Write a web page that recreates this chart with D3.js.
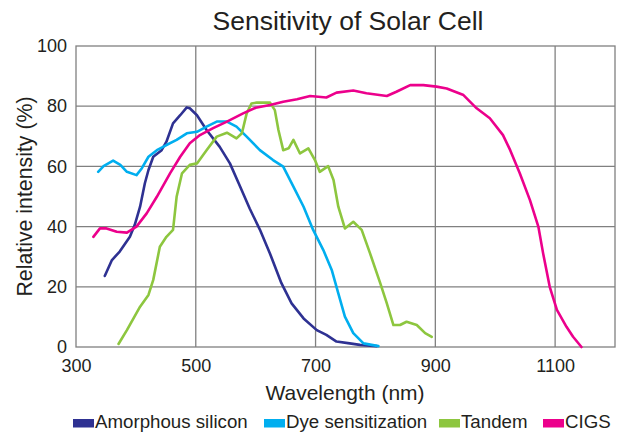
<!DOCTYPE html>
<html><head><meta charset="utf-8">
<script src="https://cdn.jsdelivr.net/npm/d3@7"></script>
<style>body{margin:0;background:#fff}text{font-family:"Liberation Sans",Arial,sans-serif;fill:#231f20}</style>
</head><body><svg id="c" width="622" height="432"></svg>
<script>
const xTicks = [300, 500, 700, 900, 1100];
const yTicks = [0, 20, 40, 60, 80, 100];
const seriesNames = ["Amorphous silicon", "Dye sensitization", "Tandem", "CIGS"];
const seriesColors = ["#2e3192", "#00aeef", "#8dc63f", "#ec008c"];

const amorphousNm = [348,360,373,390,398,407,415,421,429,443,451,462,474,485,490,502,518,540,557,574,590,607,624,643,660,680,702,718,735,757,774,802];
const amorphousVal = [23.6,28.9,31.7,36.6,40.5,46.6,54.4,58.8,63.2,65.4,68.2,74.3,77,79.6,79.3,77,72.1,66.5,61,53.3,46,39,31,21.2,14.5,9.5,5.6,4,1.8,1.2,0.7,0.3];

const dyeNm = [337,346,362,374,385,401,410,421,435,451,468,485,502,518,535,552,568,585,607,629,646,663,680,696,713,727,738,749,763,780,805];
const dyeVal = [58.2,60.1,61.9,60.5,58.2,57.1,59.4,63.2,65.4,67.1,68.8,71,71.5,73.2,74.9,74.9,73.2,69.9,65.4,62.1,59.9,53.3,46.6,38.9,32.2,25.6,17.8,10.1,4.6,1.2,0.3];

const tandemNm = [371,385,407,421,429,440,451,462,468,477,490,502,518,535,552,568,577,585,593,602,624,632,638,646,655,663,674,688,699,707,721,730,738,749,763,777,791,808,819,830,841,852,869,883,894];
const tandemVal = [1,5.6,13.4,17.3,22.3,33.3,36.6,38.9,49.9,57.7,60.5,61,65.4,69.9,71.2,69.3,71,77.6,80.9,81.2,81.2,78.7,72.1,65.4,66,68.8,64.3,66,62.1,58.2,60.1,55.5,46.6,39.4,41.6,38.9,31.1,21.2,14.5,7.3,7.3,8.4,7.3,4.6,3.4];

const cigsNm = [329,340,351,368,385,401,418,435,457,474,490,507,529,552,579,600,624,646,669,691,718,735,763,785,819,835,858,880,902,919,947,969,991,1013,1025,1041,1058,1072,1080,1091,1103,1119,1130,1144];
const cigsVal = [36.6,39.4,39.4,38.3,38,40,44.4,49.9,57.7,63.2,67.7,70.4,72.7,74.9,77.6,79.5,80.4,81.5,82.3,83.4,82.9,84.5,85.2,84.3,83.4,84.8,87,87,86.5,85.9,83.7,79.3,76,70.4,65.4,57.7,48.8,40,31.1,20,12.3,6.7,3.4,0];

const series = [
  {nm: amorphousNm, val: amorphousVal},
  {nm: dyeNm, val: dyeVal},
  {nm: tandemNm, val: tandemVal},
  {nm: cigsNm, val: cigsVal}
];

const svg = d3.select("#c");
const x = d3.scaleLinear().domain([300, 1200]).range([76, 615]);
const y = d3.scaleLinear().domain([0, 100]).range([347, 46]);
const grid = "#808080";

// grid
svg.append("g").selectAll("line").data(xTicks.slice(1)).join("line")
  .attr("x1", d => x(d)).attr("x2", d => x(d)).attr("y1", y(0)).attr("y2", y(100))
  .attr("stroke", grid).attr("stroke-width", 1.3);
svg.append("g").selectAll("line").data(yTicks.slice(1, -1)).join("line")
  .attr("x1", x(300)).attr("x2", x(1200)).attr("y1", d => y(d)).attr("y2", d => y(d))
  .attr("stroke", grid).attr("stroke-width", 1.3);
svg.append("rect").attr("x", x(300)).attr("y", y(100)).attr("width", x(1200) - x(300)).attr("height", y(0) - y(100))
  .attr("fill", "none").attr("stroke", grid).attr("stroke-width", 1.3);

// lines
const line = d3.line().x(d => x(d[0])).y(d => y(d[1])).curve(d3.curveLinear);
series.forEach((s, i) => {
  const pts = s.nm.map((n, j) => [n, s.val[j]]);
  svg.append("path").datum(pts).attr("d", line).attr("fill", "none")
    .attr("stroke", seriesColors[i]).attr("stroke-width", 2.6).attr("stroke-linejoin", "round").attr("stroke-linecap", "round");
});

// axes (tick labels via d3 axes, domain hidden)
const xAxis = svg.append("g").attr("transform", `translate(0,${y(0)})`)
  .call(d3.axisBottom(x).tickValues(xTicks).tickSize(0).tickPadding(12).tickFormat(d3.format("d")));
xAxis.select(".domain").remove();
xAxis.selectAll("text").attr("font-size", 18).attr("font-family", "Liberation Sans, Arial, sans-serif").attr("fill", "#231f20");

const yAxis = svg.append("g").attr("transform", `translate(${x(300)},0)`)
  .call(d3.axisLeft(y).tickValues(yTicks).tickSize(0).tickPadding(9).tickFormat(d3.format("d")));
yAxis.select(".domain").remove();
yAxis.selectAll("text").attr("font-size", 18).attr("font-family", "Liberation Sans, Arial, sans-serif").attr("fill", "#231f20");

// titles
svg.append("text").attr("x", 348).attr("y", 29.5).attr("text-anchor", "middle").attr("font-size", 26.5).text("Sensitivity of Solar Cell");
svg.append("text").attr("x", 345).attr("y", 400).attr("text-anchor", "middle").attr("font-size", 21).text("Wavelength (nm)");
svg.append("text").attr("transform", `translate(32,${(y(0) + y(100)) / 2}) rotate(-90)`).attr("text-anchor", "middle").attr("font-size", 21.3).text("Relative intensity (%)");

// legend
const legX = [73, 264, 439, 543];
const leg = svg.append("g").selectAll("g").data(seriesNames).join("g").attr("transform", (d, i) => `translate(${legX[i]},0)`);
leg.append("rect").attr("x", 0).attr("y", 419).attr("width", 21).attr("height", 8.5).attr("fill", (d, i) => seriesColors[i]);
leg.append("text").attr("x", 22).attr("y", 428).attr("font-size", 18.7).text(d => d);
</script></body></html>
